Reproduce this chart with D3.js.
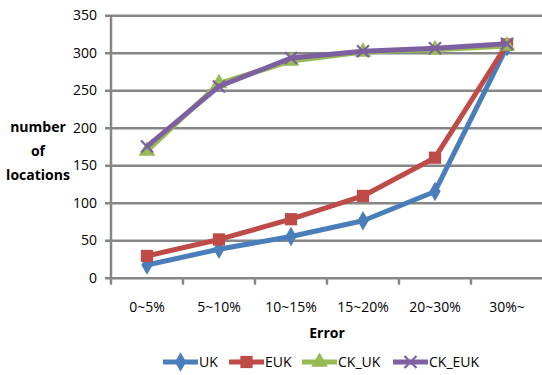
<!DOCTYPE html>
<html>
<head>
<meta charset="utf-8">
<script src="https://cdn.jsdelivr.net/npm/d3@7"></script>
<style>
  body { margin: 0; background: #fff; }
  svg text { font-family: "Open Sans", "Liberation Sans", sans-serif; fill: #000; }
</style>
</head>
<body>
<div id="chart"></div>
<script>
const WIDTH = 542;
const HEIGHT = 375;

const categories = ['0~5%', '5~10%', '10~15%', '15~20%', '20~30%', '30%~'];
const yTicks = [0, 50, 100, 150, 200, 250, 300, 350];

const ukValues = [17, 38, 55, 76, 115, 308];
const eukValues = [29, 51, 78, 109, 160, 311];
const ckUkValues = [169, 259, 289, 301, 304, 309];
const ckEukValues = [175, 255, 293, 302, 306, 312];

const series = [
  { name: 'UK', values: ukValues, color: '#4a7ebb', marker: 'diamond' },
  { name: 'EUK', values: eukValues, color: '#be4b48', marker: 'square' },
  { name: 'CK_UK', values: ckUkValues, color: '#98b954', marker: 'triangle' },
  { name: 'CK_EUK', values: ckEukValues, color: '#7d60a0', marker: 'cross' }
];

const margin = { left: 111, right: 0, top: 15, bottom: 97 };

const xScale = d3.scaleBand()
  .domain(categories)
  .range([margin.left, margin.left + 432]);

const yScale = d3.scaleLinear()
  .domain([0, 350])
  .range([HEIGHT - margin.bottom - 0.3, margin.top + 0.2]);

const svg = d3.select('#chart')
  .append('svg')
  .attr('width', WIDTH)
  .attr('height', HEIGHT);

// gridlines + y axis
const yAxis = d3.axisLeft(yScale)
  .tickValues(yTicks)
  .tickSize(-(WIDTH - margin.left))
  .tickPadding(9)
  .tickSizeOuter(0);

const yg = svg.append('g')
  .attr('transform', `translate(${margin.left},0)`)
  .call(yAxis);
yg.select('.domain').remove();
yg.selectAll('.tick line')
  .attr('x1', -6)
  .attr('stroke', '#868686')
  .attr('stroke-width', 2.5);
yg.selectAll('.tick text')
  .attr('font-size', 14)
  .attr('x', -14);

svg.append('line')
  .attr('x1', margin.left).attr('x2', margin.left)
  .attr('y1', yScale(350)).attr('y2', yScale(0))
  .attr('stroke', '#868686')
  .attr('stroke-width', 2.5);

// x axis ticks and labels
const xg = svg.append('g')
  .attr('transform', `translate(0,${yScale(0)})`);
xg.selectAll('line')
  .data(categories)
  .enter()
  .append('line')
  .attr('x1', d => xScale(d)).attr('x2', d => xScale(d))
  .attr('y1', 0).attr('y2', 7)
  .attr('stroke', '#868686')
  .attr('stroke-width', 2.5);
xg.selectAll('text')
  .data(categories)
  .enter()
  .append('text')
  .attr('x', d => xScale(d) + xScale.bandwidth() / 2)
  .attr('y', 34)
  .attr('text-anchor', 'middle')
  .attr('font-size', 14)
  .text(d => d);

svg.append('text')
  .attr('x', 327)
  .attr('y', 338)
  .attr('text-anchor', 'middle')
  .attr('font-size', 14)
  .attr('font-weight', 'bold')
  .text('Error');

const yTitle = svg.append('text')
  .attr('text-anchor', 'middle')
  .attr('font-size', 14)
  .attr('font-weight', 'bold');
['number', 'of', 'locations'].forEach((t, i) => {
  yTitle.append('tspan')
    .attr('x', 38)
    .attr('y', 132 + i * 24)
    .text(t);
});

const markerPath = (type, size) => {
  if (type === 'diamond') return d3.symbol(d3.symbolDiamond, size)();
  if (type === 'square') return d3.symbol(d3.symbolSquare, size)();
  if (type === 'triangle') return d3.symbol(d3.symbolTriangle, size)();
  return null;
};

const drawMarker = (g, s, x, y) => {
  if (s.marker === 'cross') {
    g.append('path')
      .attr('d', `M${x - 6},${y - 6}L${x + 6},${y + 6}M${x - 6},${y + 6}L${x + 6},${y - 6}`)
      .attr('stroke', s.color)
      .attr('stroke-width', 2.2)
      .attr('fill', 'none');
  } else {
    const size = s.marker === 'square' ? 150 : s.marker === 'diamond' ? 110 : 120;
    g.append('path')
      .attr('d', markerPath(s.marker, size))
      .attr('transform', `translate(${x},${y})`)
      .attr('fill', s.color);
  }
};

const line = d3.line()
  .x((d, i) => xScale(categories[i]) + xScale.bandwidth() / 2)
  .y(d => yScale(d));

series.forEach(s => {
  const g = svg.append('g');
  g.append('path')
    .datum(s.values)
    .attr('d', line)
    .attr('fill', 'none')
    .attr('stroke', s.color)
    .attr('stroke-width', 5)
    .attr('stroke-linejoin', 'round');
  s.values.forEach((v, i) => {
    drawMarker(g, s, xScale(categories[i]) + xScale.bandwidth() / 2, yScale(v));
  });
});

// legend
const legendX = [163, 229, 302, 393];
const legend = svg.append('g');
series.forEach((s, i) => {
  const g = legend.append('g');
  const x0 = legendX[i];
  const ly = 362;
  g.append('line')
    .attr('x1', x0).attr('x2', x0 + 35)
    .attr('y1', ly).attr('y2', ly)
    .attr('stroke', s.color)
    .attr('stroke-width', 5);
  drawMarker(g, s, x0 + 17.5, ly);
  g.append('text')
    .attr('x', x0 + 36)
    .attr('y', ly + 5)
    .attr('font-size', 14)
    .text(s.name);
});
</script>
</body>
</html>
